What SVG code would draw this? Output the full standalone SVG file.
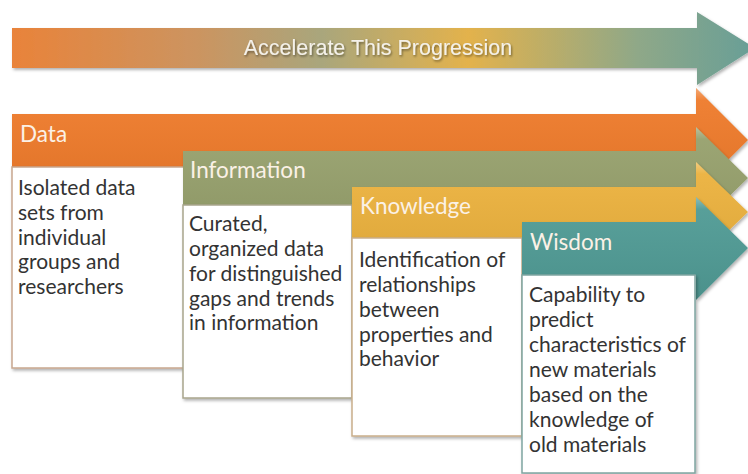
<svg xmlns="http://www.w3.org/2000/svg" width="748" height="474" viewBox="0 0 748 474">
<defs>
<linearGradient id="topg" x1="12" y1="0" x2="748" y2="0" gradientUnits="userSpaceOnUse">
<stop offset="0" stop-color="#E9833A"/>
<stop offset="0.25" stop-color="#CC9460"/>
<stop offset="0.42" stop-color="#A9A67C"/>
<stop offset="0.62" stop-color="#E3B24C"/>
<stop offset="0.85" stop-color="#8FA888"/>
<stop offset="1" stop-color="#6A9F96"/>
</linearGradient>
<linearGradient id="shine" x1="0" y1="0" x2="0" y2="1">
<stop offset="0" stop-color="#fff" stop-opacity="0.35"/>
<stop offset="0.12" stop-color="#fff" stop-opacity="0.05"/>
<stop offset="1" stop-color="#000" stop-opacity="0.06"/>
</linearGradient>
<filter id="sh" x="-10%" y="-10%" width="130%" height="130%">
<feDropShadow dx="1.5" dy="2" stdDeviation="1.5" flood-color="#000" flood-opacity="0.3"/>
</filter>
<filter id="tsh" x="-5%" y="-20%" width="110%" height="150%">
<feDropShadow dx="1" dy="1.5" stdDeviation="0.8" flood-color="#000" flood-opacity="0.45"/>
</filter>
</defs>
<style>
.hd{font-family:Lato,"Open Sans","Liberation Sans",sans-serif;font-size:22.5px;fill:#FBF1E6}
.bd{font-family:Lato,"Open Sans","Liberation Sans",sans-serif;font-size:21px;fill:#333}
.box{fill:#fff;stroke-width:1.5}
.top{font-family:"Liberation Sans",Arial,sans-serif;font-size:21.5px;fill:#F4F1EA}
</style>
<rect width="748" height="474" fill="#fff"/>

<g id="progression">
<path d="M12,28 H697 V12 L755,48 L697,85 V68 H12 Z" fill="url(#topg)" filter="url(#sh)"/>
<text class="top" x="378" y="55" text-anchor="middle" filter="url(#tsh)">Accelerate This Progression</text>
</g>

<g id="data">
<path d="M12,114 H696 V88 L748,140 L696,192 V167 H12 Z" fill="#EE7A2A" filter="url(#sh)"/>
<path d="M12,114 H696 V88 L748,140 L696,192 V167 H12 Z" fill="url(#shine)"/>
<text class="hd" x="20" y="142">Data</text>
<rect class="box" x="12" y="167" width="173" height="201" stroke="#C7A78E" filter="url(#sh)"/>
<text class="bd" x="18" y="195">Isolated data</text>
<text class="bd" x="18" y="220">sets from</text>
<text class="bd" x="18" y="245">individual</text>
<text class="bd" x="18" y="269">groups and</text>
<text class="bd" x="18" y="294">researchers</text>
</g>

<g id="information">
<path d="M183,151 H696 V127 L748,178 L696,229 V205 H183 Z" fill="#96A06C" filter="url(#sh)"/>
<path d="M183,151 H696 V127 L748,178 L696,229 V205 H183 Z" fill="url(#shine)"/>
<text class="hd" x="190" y="178">Information</text>
<rect class="box" x="183" y="205" width="169" height="193" stroke="#A8A58C" filter="url(#sh)"/>
<text class="bd" x="189" y="231">Curated,</text>
<text class="bd" x="189" y="256">organized data</text>
<text class="bd" x="189" y="281">for distinguished</text>
<text class="bd" x="189" y="306">gaps and trends</text>
<text class="bd" x="189" y="330">in information</text>
</g>

<g id="knowledge">
<path d="M352,187 H696 V162 L748,212 L696,262 V238 H352 Z" fill="#EBB13E" filter="url(#sh)"/>
<path d="M352,187 H696 V162 L748,212 L696,262 V238 H352 Z" fill="url(#shine)"/>
<text class="hd" x="360" y="214">Knowledge</text>
<rect class="box" x="352" y="238" width="170" height="198" stroke="#C9AE8A" filter="url(#sh)"/>
<text class="bd" x="359" y="267">Identification of</text>
<text class="bd" x="359" y="292">relationships</text>
<text class="bd" x="359" y="317">between</text>
<text class="bd" x="359" y="342">properties and</text>
<text class="bd" x="359" y="366">behavior</text>
</g>

<g id="wisdom">
<path d="M522,222 H696 V197 L748,248 L696,300 V275 H522 Z" fill="#4F9A94" filter="url(#sh)"/>
<path d="M522,222 H696 V197 L748,248 L696,300 V275 H522 Z" fill="url(#shine)"/>
<text class="hd" x="530" y="250">Wisdom</text>
<rect class="box" x="522" y="275" width="173" height="198" stroke="#7FA5A1" filter="url(#sh)"/>
<text class="bd" x="529" y="302">Capability to</text>
<text class="bd" x="529" y="327">predict</text>
<text class="bd" x="529" y="352">characteristics of</text>
<text class="bd" x="529" y="377">new materials</text>
<text class="bd" x="529" y="402">based on the</text>
<text class="bd" x="529" y="427">knowledge of</text>
<text class="bd" x="529" y="452">old materials</text>
</g>
</svg>
